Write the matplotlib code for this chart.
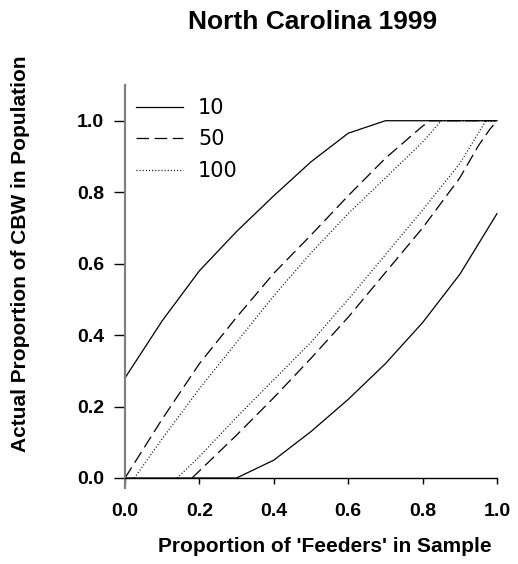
import matplotlib
matplotlib.use("Agg")
import matplotlib.pyplot as plt

plt.rcParams["font.family"] = ["Liberation Sans", "DejaVu Sans"]

# sample size 10
x10_hi = [0.0, 0.1, 0.2, 0.3, 0.4, 0.5, 0.6, 0.7, 0.8, 0.9, 1.0]
y10_hi = [0.28, 0.44, 0.58, 0.69, 0.79, 0.885, 0.965, 1.0, 1.0, 1.0, 1.0]
x10_lo = [0.0, 0.1, 0.2, 0.3, 0.4, 0.5, 0.6, 0.7, 0.8, 0.9, 1.0]
y10_lo = [0.0, 0.0, 0.0, 0.0, 0.05, 0.13, 0.22, 0.32, 0.435, 0.57, 0.74]

# sample size 50
x50_hi = [0.0, 0.1, 0.2, 0.3, 0.4, 0.5, 0.6, 0.7, 0.8, 0.82, 0.9, 1.0]
y50_hi = [0.0, 0.165, 0.32, 0.45, 0.573, 0.68, 0.79, 0.895, 0.985, 1.0, 1.0, 1.0]
x50_lo = [0.18, 0.2, 0.3, 0.4, 0.5, 0.6, 0.7, 0.8, 0.9, 0.95, 0.98, 1.0]
y50_lo = [0.0, 0.02, 0.12, 0.225, 0.335, 0.45, 0.575, 0.70, 0.84, 0.93, 0.975, 1.0]

# sample size 100
x100_hi = [0.025, 0.1, 0.2, 0.3, 0.4, 0.5, 0.6, 0.7, 0.8, 0.85, 0.9, 1.0]
y100_hi = [0.0, 0.11, 0.25, 0.38, 0.51, 0.63, 0.74, 0.84, 0.94, 1.0, 1.0, 1.0]
x100_lo = [0.14, 0.2, 0.3, 0.4, 0.5, 0.6, 0.7, 0.8, 0.9, 0.97, 1.0]
y100_lo = [0.0, 0.06, 0.17, 0.275, 0.38, 0.50, 0.625, 0.75, 0.88, 1.0, 1.0]

ticks = [0.0, 0.2, 0.4, 0.6, 0.8, 1.0]
tick_labels = ["0.0", "0.2", "0.4", "0.6", "0.8", "1.0"]

W, H = 518, 564
fig = plt.figure(figsize=(W / 100, H / 100), dpi=100)
ax = fig.add_axes([125 / W, 1 - 488 / H, 372 / W, 403 / H])

lw = 0.9
dash = (0, (10, 4.5))
dot = (0, (0.8, 1.7))

ax.plot(x10_hi, y10_hi, color="black", lw=lw, label="10", clip_on=False)
ax.plot(x10_lo, y10_lo, color="black", lw=lw, clip_on=False)
ax.plot(x50_hi, y50_hi, color="black", lw=lw, ls=dash, label="50", clip_on=False)
ax.plot(x50_lo, y50_lo, color="black", lw=lw, ls=dash, clip_on=False)
ax.plot(x100_hi, y100_hi, color="black", lw=lw, ls=dot, label="100", clip_on=False)
ax.plot(x100_lo, y100_lo, color="black", lw=lw, ls=dot, clip_on=False)

ax.set_xlim(0, 1.0)
ax.set_ylim(-0.028, 1.1)

ax.spines["top"].set_visible(False)
ax.spines["right"].set_visible(False)
ax.spines["bottom"].set_position(("data", 0))
ax.spines["bottom"].set_bounds(0, 1.0)
ax.spines["bottom"].set_linewidth(1.0)
ax.spines["left"].set_color("#808080")
ax.spines["left"].set_linewidth(1.6)

ax.set_xticks(ticks)
ax.set_xticklabels(tick_labels)
ax.set_yticks(ticks)
ax.set_yticklabels(tick_labels)
ax.tick_params(axis="x", direction="out", length=4, width=1.0, color="black",
               labelsize=14, pad=14)
ax.tick_params(axis="y", direction="out", length=8, width=1.0, color="black",
               labelsize=14, pad=7)
for lab in ax.get_xticklabels() + ax.get_yticklabels():
    lab.set_fontweight("bold")

fig.text(313 / W, 1 - 22 / H, "North Carolina 1999", ha="center", va="center",
         fontsize=19, fontweight="bold")
fig.text(325 / W, 1 - 547 / H, "Proportion of 'Feeders' in Sample", ha="center",
         va="center", fontsize=15, fontweight="bold")
fig.text(21 / W, 1 - 254 / H, "Actual Proportion of CBW in Population", ha="center",
         va="center", rotation=90, fontsize=15, fontweight="bold")

ax.legend(loc="upper left", bbox_to_anchor=(11 / 372, 1 - 13 / 403), frameon=False,
          borderpad=0, borderaxespad=0, handlelength=2.26, handletextpad=0.72,
          labelspacing=0.55, prop={"family": "DejaVu Sans", "size": 15})

fig.savefig("out.png", dpi=100)
